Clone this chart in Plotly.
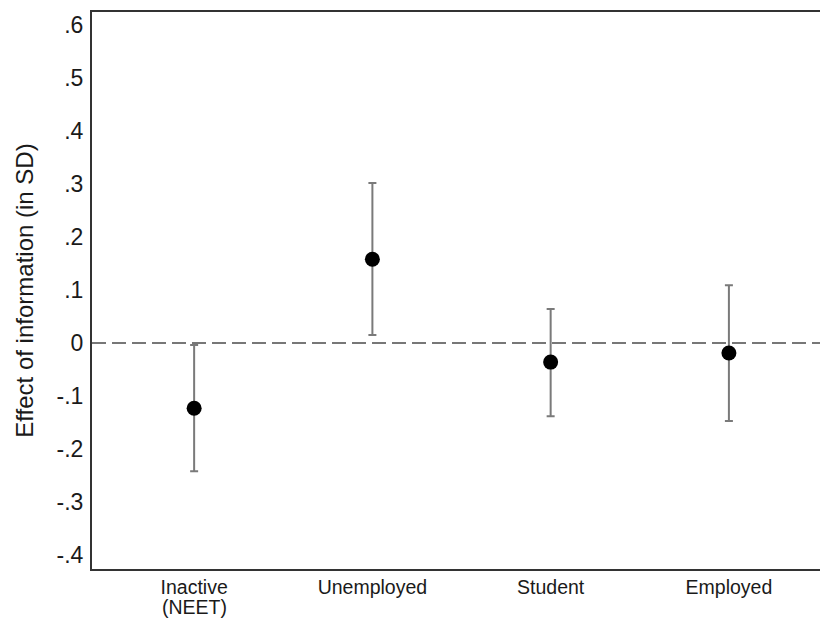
import plotly.graph_objects as go

categories = ["Inactive", "Unemployed", "Student", "Employed"]
category_sublabels = ["(NEET)", "", "", ""]
estimates = [-0.123, 0.158, -0.036, -0.019]
ci_upper = [-0.004, 0.302, 0.064, 0.109]
ci_lower = [-0.242, 0.015, -0.138, -0.147]
y_ticks = [-0.4, -0.3, -0.2, -0.1, 0, 0.1, 0.2, 0.3, 0.4, 0.5, 0.6]
y_tick_labels = ["-.4", "-.3", "-.2", "-.1", "0", ".1", ".2", ".3", ".4", ".5", ".6"]

xpos = list(range(len(categories)))
err_plus = [u - e for u, e in zip(ci_upper, estimates)]
err_minus = [e - l for e, l in zip(estimates, ci_lower)]

fig = go.Figure()
fig.add_hline(y=0, line=dict(color="#777777", width=2, dash="14px,6px"), layer="below")
fig.add_trace(go.Scatter(
    x=xpos, y=estimates, mode="markers",
    marker=dict(color="black", size=15),
    error_y=dict(type="data", symmetric=False, array=err_plus, arrayminus=err_minus,
                 color="#7a7a7a", thickness=2, width=4),
    showlegend=False,
))

for xp, sub in zip(xpos, category_sublabels):
    if sub:
        fig.add_annotation(x=xp, xref="x", y=0, yref="paper", text=sub, showarrow=False,
                           yanchor="middle", yshift=-38, font=dict(size=19.5, color="#1a1a1a"))

fig.update_layout(
    width=820, height=619,
    margin=dict(l=92, r=0, t=12, b=50),
    paper_bgcolor="white", plot_bgcolor="white",
    font=dict(family="Liberation Sans, Arial, sans-serif", color="#1a1a1a"),
    xaxis=dict(
        range=[-0.573, 3.511], tickmode="array", tickvals=xpos, ticktext=categories,
        showgrid=False, zeroline=False, showline=True, linecolor="#333333", linewidth=2,
        mirror=True, ticks="", tickfont=dict(size=19.5), automargin=False,
    ),
    yaxis=dict(
        range=[-0.4264, 0.6245], tickmode="array", tickvals=y_ticks, ticktext=y_tick_labels,
        showgrid=False, zeroline=False, showline=True, linecolor="#333333", linewidth=2,
        ticks="", tickfont=dict(size=23), automargin=False, ticklabelstandoff=2,
        title=dict(text="Effect of information (in SD)", font=dict(size=24), standoff=16),
    ),
)

fig.write_html(
    "out.html",
    config={"displayModeBar": False},
    post_script="document.body.style.margin='0';document.body.style.overflow='hidden';",
)
